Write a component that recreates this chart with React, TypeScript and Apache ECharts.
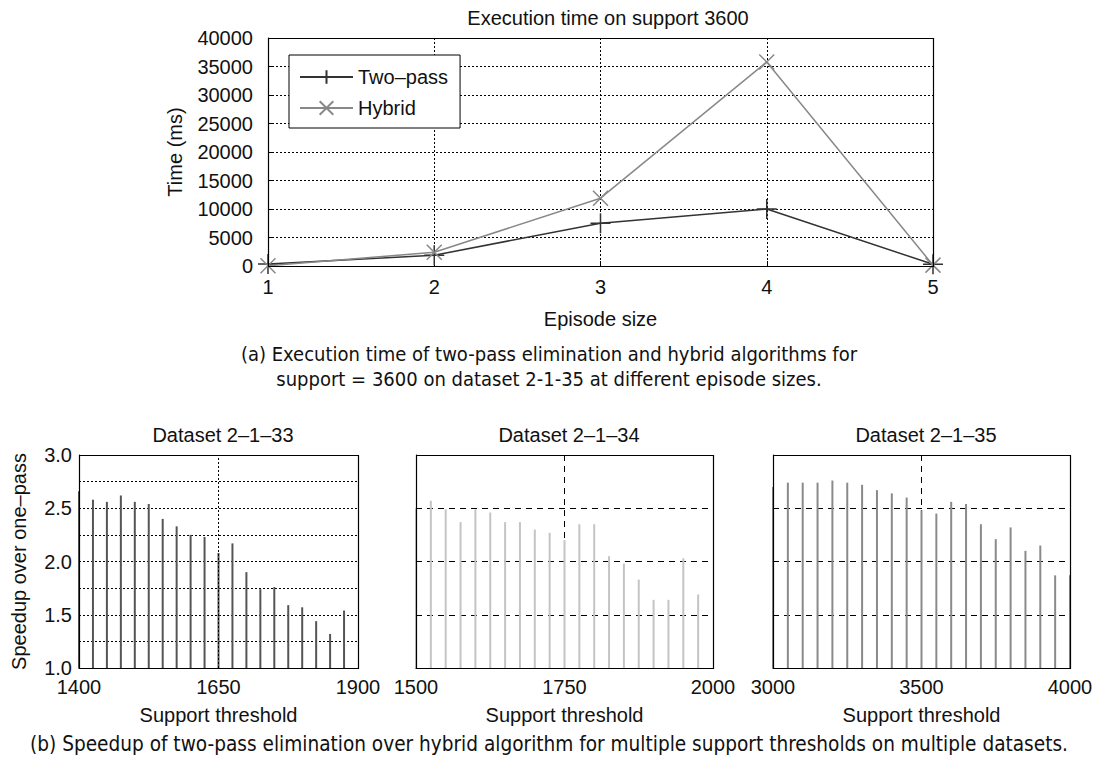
import React, { useEffect, useRef } from "react";
import * as echarts from "echarts";

// ---- data ----
const episodeSizes = [1, 2, 3, 4, 5];
const twoPassTimes = [350, 1900, 7500, 10000, 300];
const hybridTimes = [60, 2400, 11900, 35800, 150];

const ds33Support = [1400, 1425, 1450, 1475, 1500, 1525, 1550, 1575, 1600, 1625, 1650, 1675, 1700, 1725, 1750, 1775, 1800, 1825, 1850, 1875];
const ds33Speedup = [2.66, 2.58, 2.56, 2.62, 2.56, 2.54, 2.4, 2.33, 2.25, 2.23, 2.08, 2.17, 1.9, 1.74, 1.76, 1.59, 1.57, 1.44, 1.32, 1.54];

const ds34Support = [1500, 1525, 1550, 1575, 1600, 1625, 1650, 1675, 1700, 1725, 1750, 1775, 1800, 1825, 1850, 1875, 1900, 1925, 1950, 1975];
const ds34Speedup = [2.5, 2.57, 2.49, 2.37, 2.49, 2.46, 2.37, 2.37, 2.3, 2.27, 2.2, 2.35, 2.35, 2.05, 1.98, 1.83, 1.64, 1.64, 2.03, 1.69];

const ds35Support = [3000, 3050, 3100, 3150, 3200, 3250, 3300, 3350, 3400, 3450, 3500, 3550, 3600, 3650, 3700, 3750, 3800, 3850, 3900, 3950, 4000];
const ds35Speedup = [2.7, 2.74, 2.74, 2.74, 2.76, 2.74, 2.72, 2.67, 2.64, 2.6, 2.48, 2.45, 2.56, 2.54, 2.35, 2.21, 2.32, 2.1, 2.15, 1.87, 1.87];

const FONT = "'Liberation Sans', Arial, Helvetica, sans-serif";
const CAPFONT = "'Liberation Sans Narrow', 'DejaVu Sans Condensed', sans-serif";

const plusPath = "path://M10,0L10,20M0,10L20,10";
const crossPath = "path://M0,0L20,20M20,0L0,20";

export default function App() {
  const ref = useRef<HTMLDivElement>(null);
  useEffect(() => {
    if (!ref.current) return;
    const chart = echarts.init(ref.current, undefined, { renderer: "svg" });

    const pair = (xs: number[], ys: number[]) => xs.map((x, i) => [x, ys[i]]);
    const half = (v: number) => (Math.abs(v * 2 - Math.round(v * 2)) < 1e-6 ? v.toFixed(1) : "");
    const plain = (v: number) => String(v);

    const bottomGrids = [
      { left: 79, width: 279, top: 455, height: 213 },
      { left: 416, width: 297, top: 455, height: 213 },
      { left: 773, width: 297, top: 455, height: 213 },
    ];

    const axisLineBlack = { show: true, lineStyle: { color: "#000", width: 1 } };
    const txt = { fontFamily: FONT, fontSize: 20, color: "#111" };

    const frames = [
      { x: 268, y: 38, w: 665, h: 228 },
      ...bottomGrids.map((g) => ({ x: g.left, y: g.top, w: g.width, h: g.height })),
    ].map((f) => ({
      type: "rect", z: 100, silent: true,
      shape: { x: f.x + 0.5, y: f.y + 0.5, width: f.w, height: f.h },
      style: { fill: "none", stroke: "#000", lineWidth: 1.2 },
    }));

    const option: any = {
      animation: false,
      backgroundColor: "#fff",
      title: [
        { text: "Execution time on support 3600", left: 603, top: 3, textAlign: "center", textStyle: { ...txt, fontWeight: "normal" } },
        { text: "Dataset 2–1–33", left: 218, top: 420, textAlign: "center", textStyle: { ...txt, fontWeight: "normal" } },
        { text: "Dataset 2–1–34", left: 564, top: 420, textAlign: "center", textStyle: { ...txt, fontWeight: "normal" } },
        { text: "Dataset 2–1–35", left: 921, top: 420, textAlign: "center", textStyle: { ...txt, fontWeight: "normal" } },
      ],
      graphic: [
        ...frames,
        { type: "text", left: "center", top: 344, style: { text: "(a) Execution time of two-pass elimination and hybrid algorithms for", fontFamily: CAPFONT, fontSize: 20, fill: "#111" } },
        { type: "text", left: "center", top: 369, style: { text: "support = 3600 on dataset 2-1-35 at different episode sizes.", fontFamily: CAPFONT, fontSize: 20, fill: "#111" } },
        { type: "text", left: "center", top: 733, style: { text: "(b) Speedup of two-pass elimination over hybrid algorithm for multiple support thresholds on multiple datasets.", fontFamily: CAPFONT, fontSize: 20.6, fill: "#111" } },
      ],
      legend: {
        left: 289,
        top: 55,
        orient: "vertical",
        borderColor: "#000",
        borderWidth: 1,
        backgroundColor: "#fff",
        padding: [12, 12, 10, 10],
        itemWidth: 53,
        itemHeight: 17,
        itemGap: 11,
        textStyle: { ...txt },
        data: ["Two–pass", "Hybrid"],
      },
      grid: [
        { left: 268, right: 165, top: 38, bottom: 500 },
        ...bottomGrids,
      ],
      xAxis: [
        {
          gridIndex: 0, type: "value", min: 1, max: 5, interval: 1,
          name: "Episode size", nameLocation: "middle", nameGap: 43,
          nameTextStyle: { ...txt },
          axisLine: axisLineBlack, axisTick: { show: true, inside: true, length: 5, lineStyle: { color: "#000" } },
          axisLabel: { ...txt, margin: 11, formatter: plain },
          splitLine: { show: true, lineStyle: { color: "#000", type: [2, 2], width: 1 } },
        },
        {
          gridIndex: 1, type: "value", min: 1400, max: 1900, interval: 50,
          name: "Support threshold", nameLocation: "middle", nameGap: 37,
          nameTextStyle: { ...txt },
          axisLine: axisLineBlack, axisTick: { show: false },
          axisLabel: { ...txt, margin: 9, formatter: (v: number) => ([1400, 1650, 1900].includes(v) ? String(v) : "") },
          splitLine: { show: false },
        },
        {
          gridIndex: 2, type: "value", min: 1500, max: 2000, interval: 250,
          name: "Support threshold", nameLocation: "middle", nameGap: 37,
          nameTextStyle: { ...txt },
          axisLine: axisLineBlack, axisTick: { show: false },
          axisLabel: { ...txt, margin: 9, formatter: plain },
          splitLine: { show: true, lineStyle: { color: "#000", type: [6, 5], width: 1 } },
        },
        {
          gridIndex: 3, type: "value", min: 3000, max: 4000, interval: 500,
          name: "Support threshold", nameLocation: "middle", nameGap: 37,
          nameTextStyle: { ...txt },
          axisLine: axisLineBlack, axisTick: { show: false },
          axisLabel: { ...txt, margin: 9, formatter: plain },
          splitLine: { show: true, lineStyle: { color: "#000", type: [6, 5], width: 1 } },
        },
      ],
      yAxis: [
        {
          gridIndex: 0, type: "value", min: 0, max: 40000, interval: 5000,
          name: "Time (ms)", nameLocation: "middle", nameGap: 83,
          nameTextStyle: { ...txt },
          axisLine: axisLineBlack, axisTick: { show: true, inside: true, length: 5, lineStyle: { color: "#000" } },
          axisLabel: { ...txt, margin: 15, formatter: plain },
          splitLine: { show: true, lineStyle: { color: "#000", type: [2, 2], width: 1 } },
        },
        {
          gridIndex: 1, type: "value", min: 1, max: 3, interval: 0.25,
          name: "Speedup over one–pass", nameLocation: "middle", nameGap: 50,
          nameTextStyle: { ...txt },
          axisLine: axisLineBlack, axisTick: { show: false },
          axisLabel: { ...txt, margin: 7, formatter: half },
          splitLine: { show: true, lineStyle: { color: "#000", type: [2, 2], width: 1 } },
        },
        {
          gridIndex: 2, type: "value", min: 1, max: 3, interval: 0.5,
          axisLine: axisLineBlack, axisTick: { show: false }, axisLabel: { show: false },
          splitLine: { show: true, lineStyle: { color: "#000", type: [6, 5], width: 1 } },
        },
        {
          gridIndex: 3, type: "value", min: 1, max: 3, interval: 0.5,
          axisLine: axisLineBlack, axisTick: { show: false }, axisLabel: { show: false },
          splitLine: { show: true, lineStyle: { color: "#000", type: [6, 5], width: 1 } },
        },
      ],
      series: [
        {
          name: "Two–pass", type: "line", xAxisIndex: 0, yAxisIndex: 0,
          data: pair(episodeSizes, twoPassTimes),
          symbol: plusPath, symbolSize: 20,
          lineStyle: { color: "#333", width: 1.5 },
          itemStyle: { color: "transparent", borderColor: "#333", borderWidth: 1.5 },
          z: 3,
        },
        {
          name: "Hybrid", type: "line", xAxisIndex: 0, yAxisIndex: 0,
          data: pair(episodeSizes, hybridTimes),
          symbol: crossPath, symbolSize: 15,
          lineStyle: { color: "#888", width: 1.5 },
          itemStyle: { color: "transparent", borderColor: "#888", borderWidth: 1.5 },
          z: 4,
        },
        {
          type: "bar", xAxisIndex: 1, yAxisIndex: 1, barWidth: 2, clip: true,
          data: pair(ds33Support, ds33Speedup),
          itemStyle: { color: "#555" },
          markLine: {
            silent: true, symbol: "none", label: { show: false },
            lineStyle: { color: "#000", type: [2, 2], width: 1 },
            data: [{ xAxis: 1650 }],
          },
        },
        {
          type: "bar", xAxisIndex: 2, yAxisIndex: 2, barWidth: 2, clip: true,
          data: pair(ds34Support, ds34Speedup),
          itemStyle: { color: "#c4c4c4" },
        },
        {
          type: "bar", xAxisIndex: 3, yAxisIndex: 3, barWidth: 2, clip: true,
          data: pair(ds35Support, ds35Speedup),
          itemStyle: { color: "#8a8a8a" },
        },
      ],
    };

    chart.setOption(option);
    return () => chart.dispose();
  }, []);

  return <div ref={ref} style={{ position: "absolute", left: 0, top: 0, width: 1098, height: 766 }} />;
}
